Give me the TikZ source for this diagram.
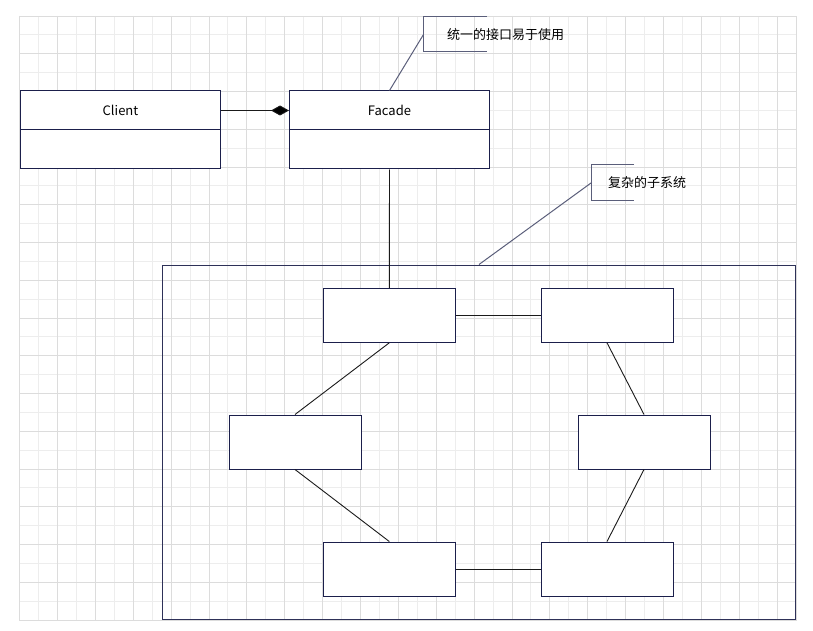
\documentclass[tikz,border=0pt]{standalone}
\usepackage{fontspec}
\setmainfont{Noto Sans CJK SC}
\usetikzlibrary{arrows.meta}
\definecolor{gridminor}{HTML}{EDEDED}
\definecolor{gridmajor}{HTML}{DCDCDC}
\definecolor{boxline}{HTML}{1B1F4B}
\definecolor{subline}{HTML}{2E3158}
\definecolor{noteline}{HTML}{5A5E7A}
\definecolor{conn}{HTML}{1A1A1A}
\begin{document}
\begin{tikzpicture}[x=1pt,y=-1pt,
  classbox/.style={draw=boxline, line width=1pt, fill=white, minimum width=200pt, minimum height=78pt, inner sep=0pt},
  partbox/.style={draw=boxline, line width=1pt, fill=white, minimum width=132pt, minimum height=54pt, inner sep=0pt},
  subbox/.style={draw=subline, line width=1pt, minimum width=633pt, minimum height=354pt, inner sep=0pt},
  label/.style={font=\fontsize{13pt}{15pt}\selectfont, text=black, inner sep=0pt},
  link/.style={draw=conn, line width=0.9pt},
  noteedge/.style={draw=noteline, line width=1pt}
]
\useasboundingbox (0,0) rectangle (813,631);
% grid
\foreach \i in {1,3,...,41} \draw[gridminor, line width=0.8pt] ({19.5+\i*18.94},16) -- ({19.5+\i*18.94},620);
\foreach \j in {1,3,...,31} \draw[gridminor, line width=0.8pt] (19.5,{16+\j*18.875}) -- (796,{16+\j*18.875});
\foreach \i in {0,2,...,40} \draw[gridmajor, line width=0.8pt] ({19.5+\i*18.94},16) -- ({19.5+\i*18.94},620);
\foreach \j in {0,2,...,32} \draw[gridmajor, line width=0.8pt] (19.5,{16+\j*18.875}) -- (796,{16+\j*18.875});
\draw[gridmajor, line width=0.8pt] (19.5,16) rectangle (796,620);

% subsystem
\node[subbox] (sub) at (479,442) {};

% classes
\node[classbox] (client) at (120.5,130) {};
\draw[boxline, line width=1pt] (client.west |- 0,130) -- (client.east |- 0,130);
\node[label] (clientname) at (120.5,110.5) {Client};
\node[classbox] (facade) at (389.5,130) {};
\draw[boxline, line width=1pt] (facade.west |- 0,130) -- (facade.east |- 0,130);
\node[label] (facadename) at (389.5,110.5) {Facade};

\draw[link, -{Diamond[length=18pt,width=10pt,fill=black]}] (client.east |- clientname) -- (facade.west |- clientname);

% parts
\node[partbox] (b1) at (389.3,315.3) {};
\node[partbox] (b2) at (607,315.3) {};
\node[partbox] (b3) at (295,442) {};
\node[partbox] (b4) at (644,442) {};
\node[partbox] (b5) at (389.3,569) {};
\node[partbox] (b6) at (607,569) {};

\draw[link] (facade.south) -- (b1.north);
\draw[link] (b1.east) -- (b2.west);
\draw[link] (b1.south) -- (b3.north);
\draw[link] (b2.south) -- (b4.north);
\draw[link] (b3.south) -- (b5.north);
\draw[link] (b4.south) -- (b6.north);
\draw[link] (b5.east) -- (b6.west);

% note 1
\draw[noteedge] (487,16.7) -- (423.5,16.7) -- (423.5,51.7) -- (487,51.7);
\coordinate (n1) at (423.5,34.5);
\node[label, anchor=west] (note1) at (447,34.5) {统一的接口易于使用};
\draw[noteedge] (n1) -- (facade.north);

% note 2
\draw[noteedge] (634,165) -- (591.7,165) -- (591.7,200) -- (634,200);
\coordinate (n2) at (591.7,182.5);
\node[label, anchor=west] (note2) at (608,183) {复杂的子系统};
\draw[noteedge] (n2) -- (sub.north);
\end{tikzpicture}
\end{document}
